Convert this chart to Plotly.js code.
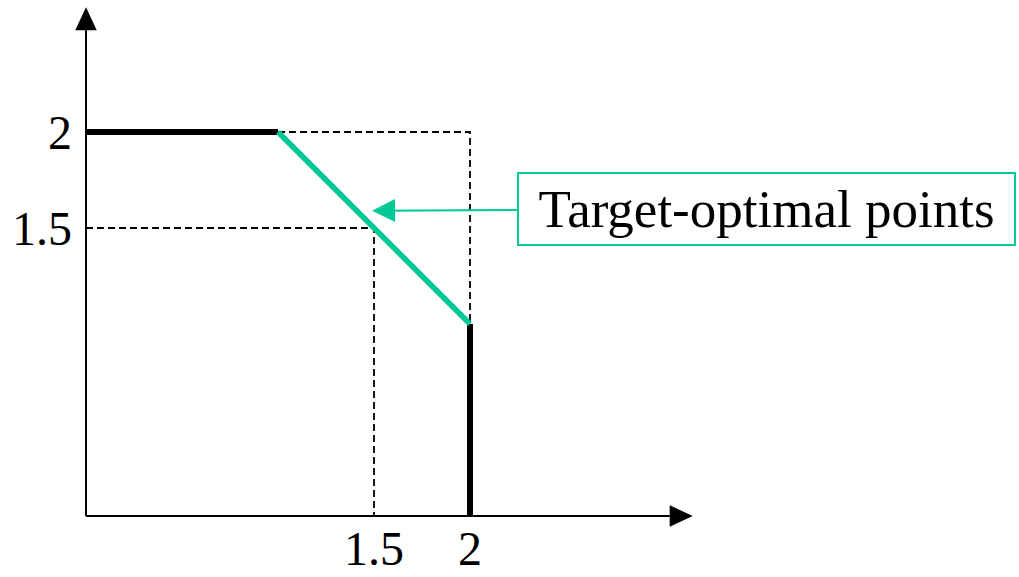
<!DOCTYPE html>
<html>
<head>
<meta charset="utf-8">
<script src="https://cdn.plot.ly/plotly-3.0.1.min.js"></script>
<style>html,body{margin:0;padding:0;background:#fff;}#chart{width:1019px;height:577px;}</style>
</head>
<body>
<div id="chart"></div>
<script>
// ---- data ----
const frontX = [0, 1];
const frontY = [2, 2];
const targetX = [1, 2];
const targetY = [2, 1];
const edgeX = [2, 2];
const edgeY = [1, 0];
const guideTopX = [1, 2, 2];
const guideTopY = [2, 2, 1];
const guideMidX = [0, 1.5, 1.5];
const guideMidY = [1.5, 1.5, 0];
const xTickVals = [1.5, 2];
const xTickText = ['1.5', '2'];
const yTickVals = [1.5, 2];
const yTickText = ['1.5', '2'];
const labelText = 'Target-optimal points';
const labelPoint = [1.49, 1.59];

// ---- styling ----
const GREEN = '#00C897';
const FONT = 'Liberation Serif, Times New Roman, serif';
const xMax = 933 / 192;
const yMax = 516 / 192;
const xAxisEnd = 3.16, yAxisEnd = 2.65;
const headLen = 0.12, headHalf = 0.056;
// convert data units to paper units (not clipped)
const px = v => v / xMax, py = v => v / yMax;

const traces = [
  {x: guideTopX, y: guideTopY, mode: 'lines', line: {color: '#000', width: 1.8, dash: '7px,4px'}, hoverinfo: 'skip'},
  {x: guideMidX, y: guideMidY, mode: 'lines', line: {color: '#000', width: 1.8, dash: '7px,4px'}, hoverinfo: 'skip'},
  {x: frontX, y: frontY, mode: 'lines', line: {color: '#000', width: 6}},
  {x: edgeX, y: edgeY, mode: 'lines', line: {color: '#000', width: 6}},
  {x: targetX, y: targetY, mode: 'lines', line: {color: GREEN, width: 5.5}}
];

const shapes = [
  {type: 'line', xref: 'paper', yref: 'paper', x0: 0, y0: 0, x1: px(xAxisEnd - headLen), y1: 0, line: {color: '#000', width: 2}},
  {type: 'line', xref: 'paper', yref: 'paper', x0: 0, y0: 0, x1: 0, y1: py(yAxisEnd - headLen), line: {color: '#000', width: 2}},
  {type: 'path', xref: 'paper', yref: 'paper', fillcolor: '#000', line: {width: 0},
   path: `M ${px(xAxisEnd - headLen)},${py(-headHalf)} L ${px(xAxisEnd)},0 L ${px(xAxisEnd - headLen)},${py(headHalf)} Z`},
  {type: 'path', xref: 'paper', yref: 'paper', fillcolor: '#000', line: {width: 0},
   path: `M ${px(-headHalf)},${py(yAxisEnd - headLen)} L 0,${py(yAxisEnd)} L ${px(headHalf)},${py(yAxisEnd - headLen)} Z`}
];

const layout = {
  width: 1019, height: 577,
  margin: {l: 86, r: 0, t: 0, b: 61, pad: 0},
  paper_bgcolor: '#fff', plot_bgcolor: '#fff',
  showlegend: false,
  xaxis: {range: [0, xMax], showgrid: false, zeroline: false, showline: false,
          tickvals: xTickVals, ticktext: xTickText, ticks: '', ticklabelstandoff: 0,
          tickfont: {family: FONT, size: 48, color: '#000'}, fixedrange: true},
  yaxis: {range: [0, yMax], showgrid: false, zeroline: false, showline: false,
          tickvals: yTickVals, ticktext: yTickText, ticks: '', ticklabelstandoff: 13,
          tickfont: {family: FONT, size: 48, color: '#000'}, fixedrange: true},
  shapes: shapes,
  annotations: [{
    x: labelPoint[0], y: labelPoint[1], xref: 'x', yref: 'y',
    text: labelText, showarrow: true, axref: 'pixel', ayref: 'pixel',
    ax: 394, ay: -2,
    arrowhead: 2, arrowsize: 2.3, arrowwidth: 2, arrowcolor: GREEN,
    font: {family: FONT, size: 53, color: '#000'},
    bordercolor: GREEN, borderwidth: 2, borderpad: 0, bgcolor: '#fff',
    width: 495, height: 70, align: 'center', valign: 'middle'
  }]
};

Plotly.newPlot('chart', traces, layout, {displayModeBar: false, staticPlot: true});
</script>
</body>
</html>
